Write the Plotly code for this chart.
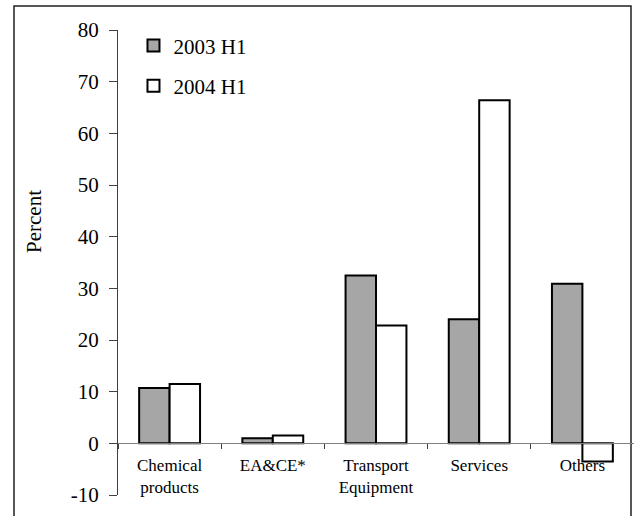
import plotly.graph_objects as go

categories = ["Chemical<br>products", "EA&CE*", "Transport<br>Equipment", "Services", "Others"]
series_2003 = [10.7, 1.0, 32.5, 24.0, 30.9]
series_2004 = [11.5, 1.5, 22.8, 66.4, -3.5]
series_names = ["2003 H1", "2004 H1"]
y_ticks = [-10, 0, 10, 20, 30, 40, 50, 60, 70, 80]
y_tick_text = ["-10", "0", "10", "20", "30", "40", "50", "60", "70", "80"]

FONT = "Liberation Serif"
W, H = 634, 516
ml, mr, mt, mb = 118, 0, 30, 21

fig = go.Figure()
fig.add_trace(go.Bar(x=categories, y=series_2003, name=series_names[0], legendgroup="a",
                     marker=dict(color="#a6a6a6", line=dict(color="black", width=2))))
fig.add_trace(go.Bar(x=categories, y=series_2004, name=series_names[1], legendgroup="b",
                     marker=dict(color="white", line=dict(color="black", width=2))))

ymin, ymax = -10, 80
zero_pos = (0 - ymin) / (ymax - ymin)

fig.update_layout(
    width=W, height=H,
    margin=dict(l=ml, r=mr, t=mt, b=mb, pad=0),
    paper_bgcolor="white", plot_bgcolor="white",
    barmode="group", bargap=0.41, bargroupgap=0,
    font=dict(family=FONT, color="black"),
    showlegend=True,
    legend=dict(x=0.03, y=1.01, xanchor="left", yanchor="top",
                font=dict(family=FONT, size=21), bgcolor="rgba(0,0,0,0)",
                tracegroupgap=10, itemsizing="constant", itemwidth=30),
    xaxis=dict(type="category", range=[-0.5, 4.5], anchor="free", position=zero_pos,
               showline=True, linecolor="#808080", linewidth=1,
               ticks="outside", ticklen=5, tickcolor="#404040", tickson="boundaries",
               tickfont=dict(family=FONT, size=17), ticklabelstandoff=6,
               showgrid=False, zeroline=False),
    yaxis=dict(range=[ymin, ymax], tickvals=y_ticks, ticktext=y_tick_text,
               showline=True, linecolor="#404040",
               linewidth=1, ticks="outside", ticklen=8, tickcolor="#404040",
               tickfont=dict(family=FONT, size=21), ticklabelstandoff=6,
               showgrid=False, zeroline=False),
    annotations=[dict(text="Percent", textangle=-90, xref="paper", yref="paper",
                      x=(34 - ml) / (W - ml - mr), y=(H - mb - 222) / (H - mt - mb),
                      showarrow=False, font=dict(family=FONT, size=21),
                      xanchor="center", yanchor="middle")],
    shapes=[dict(type="rect", xref="paper", yref="paper",
                 x0=(14 - ml) / (W - ml - mr), x1=(631 - ml) / (W - ml - mr),
                 y0=(H - mb - 530) / (H - mt - mb), y1=(H - mb - 6) / (H - mt - mb),
                 line=dict(color="#202020", width=1.5), layer="below")],
)

fig.write_html("out.html")
